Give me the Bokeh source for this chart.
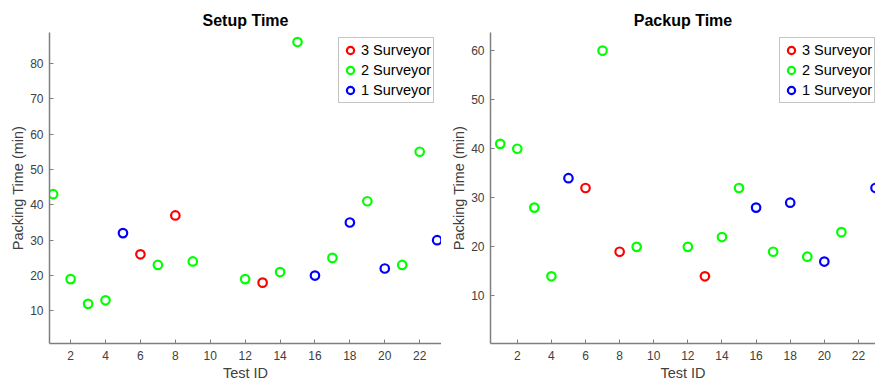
from bokeh.plotting import figure
from bokeh.layouts import row
from bokeh.models import Legend, LegendItem, FixedTicker, Range1d
from bokeh.embed import file_html
from bokeh.resources import INLINE

# Setup Time data
setup_x = [1, 2, 3, 4, 5, 6, 7, 8, 9, 12, 13, 14, 15, 16, 17, 18, 19, 20, 21, 22, 23]
setup_y = [43, 19, 12, 13, 32, 26, 23, 37, 24, 19, 18, 21, 86, 20, 25, 35, 41, 22, 23, 55, 30]
setup_team = [2, 2, 2, 2, 1, 3, 2, 3, 2, 2, 3, 2, 2, 1, 2, 1, 2, 1, 2, 2, 1]

# Packup Time data
packup_x = [1, 2, 3, 4, 5, 6, 7, 8, 9, 12, 13, 14, 15, 16, 17, 18, 19, 20, 21, 23]
packup_y = [41, 40, 28, 14, 34, 32, 60, 19, 20, 20, 14, 22, 32, 28, 19, 29, 18, 17, 23, 32]
packup_team = [2, 2, 2, 2, 1, 3, 2, 3, 2, 2, 3, 2, 2, 1, 2, 1, 2, 1, 2, 1]

groups = [3, 2, 1]
group_labels = ["3 Surveyor", "2 Surveyor", "1 Surveyor"]
group_colors = ["#ff0000", "#00ff00", "#0000ff"]

x_ticks = [2, 4, 6, 8, 10, 12, 14, 16, 18, 20, 22]
setup_y_ticks = [10, 20, 30, 40, 50, 60, 70, 80]
packup_y_ticks = [10, 20, 30, 40, 50, 60]

FONT = "Liberation Sans"
AXIS_COLOR = "#7f7f7f"
TEXT_COLOR = "#404040"


def make_panel(title, xs, ys, teams, xr, yr, yticks, width, border_left):
    p = figure(width=width, height=383, output_backend="svg", toolbar_location=None,
               x_range=Range1d(*xr), y_range=Range1d(*yr),
               min_border_left=border_left, min_border_right=0,
               min_border_top=32, min_border_bottom=39)
    p.title.text = title
    p.title.align = "center"
    p.title.text_font = FONT
    p.title.text_font_size = "16px"
    p.title.text_font_style = "bold"
    p.title.text_color = "#000000"
    p.title.offset = 0
    p.title.standoff = 7
    p.outline_line_color = None
    p.grid.visible = False
    p.background_fill_color = "white"

    for ax, ticks in ((p.xaxis, x_ticks), (p.yaxis, yticks)):
        ax.ticker = FixedTicker(ticks=ticks)
        ax.major_tick_in = 4
        ax.major_tick_out = 0
        ax.minor_tick_in = 0
        ax.minor_tick_out = 0
        ax.axis_line_color = AXIS_COLOR
        ax.axis_line_width = 1.5
        ax.major_tick_line_color = AXIS_COLOR
        ax.major_label_text_font = FONT
        ax.major_label_text_font_size = "12px"
        ax.major_label_text_color = TEXT_COLOR
        ax.axis_label_text_font = FONT
        ax.axis_label_text_font_size = "14.5px"
        ax.axis_label_text_font_style = "normal"
        ax.axis_label_text_color = TEXT_COLOR
    p.xaxis.axis_label = "Test ID"
    p.yaxis.axis_label = "Packing Time (min)"
    p.xaxis.major_label_standoff = 7
    p.xaxis.axis_label_standoff = 2
    p.yaxis.major_label_standoff = 6
    p.yaxis.axis_label_standoff = 1

    items = []
    for g, lab, col in zip(groups, group_labels, group_colors):
        gx = [x for x, t in zip(xs, teams) if t == g]
        gy = [y for y, t in zip(ys, teams) if t == g]
        r = p.scatter(gx, gy, marker="circle", size=8.5, line_width=2.2,
                      line_color=col, fill_color=None)
        items.append(LegendItem(label=lab, renderers=[r]))

    leg = Legend(items=items, location=(289, 240))
    leg.label_text_font = FONT
    leg.label_text_font_size = "14.5px"
    leg.label_text_color = "#000000"
    leg.border_line_color = "#8c8c8c"
    leg.border_line_width = 1.5
    leg.background_fill_alpha = 1
    leg.padding = 2
    leg.spacing = 0
    leg.margin = 0
    leg.glyph_width = 18
    leg.glyph_height = 20
    leg.label_height = 20
    leg.label_standoff = 2
    p.add_layout(leg, "center")
    return p


p1 = make_panel("Setup Time", setup_x, setup_y, setup_team,
                (0.79, 23.25), (0.8, 88.7), setup_y_ticks, 441, 49)
p2 = make_panel("Packup Time", packup_x, packup_y, packup_team,
                (0.43, 23.0), (0.3, 63.7), packup_y_ticks, 434, 49)

layout = row(p1, p2, spacing=0)
open("out.html", "w").write(file_html(layout, INLINE))
